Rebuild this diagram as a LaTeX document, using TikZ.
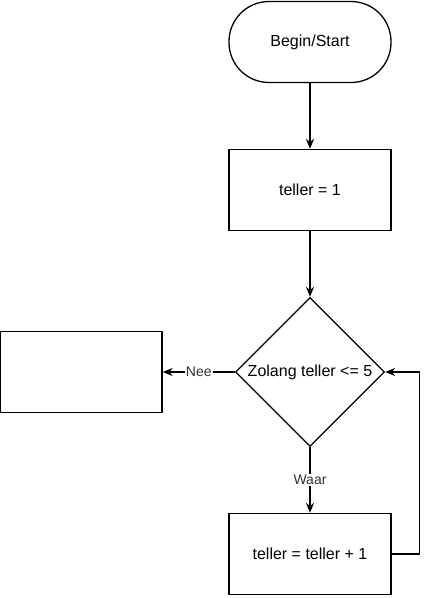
\documentclass[tikz,border=0pt]{standalone}
\usepackage{fontspec}
\setmainfont{Liberation Sans}
\usepackage{tikz}
\usetikzlibrary{shapes.geometric,arrows.meta}

\tikzset{
	blok/.style={shape=rectangle,draw=black,line width=1.3pt,minimum width=162pt,minimum height=81pt,font=\fontsize{16}{19}\selectfont},
	eindblok/.style={blok,rounded corners=40pt},
	keuze/.style={shape=diamond,draw=black,line width=1.3pt,inner sep=0pt,minimum width=149pt,minimum height=149pt,font=\fontsize{16}{19}\selectfont},
	pijl/.style={-{Stealth[length=10pt,width=8pt]},line width=1.3pt},
	label/.style={fill=white,inner sep=1pt,font=\fontsize{14}{16}\selectfont,text=black!80}
}

\begin{document}
\begin{tikzpicture}[x=1pt,y=-1pt]
	\useasboundingbox (0,0) rectangle (432,598);

	\node[eindblok] (start) at (310, 42)  {Begin/Start};
	\node[blok]     (init)  at (310, 190) {teller = 1};
	\node[keuze]    (cond)  at (310, 372) {Zolang teller <= 5};
	\node[blok]     (einde) at (81, 372)  {};
	\node[blok]     (ophoog) at (310, 554) {teller = teller + 1};

	\path[pijl] (start) edge (init);
	\path[pijl] (init) edge (cond);
	\path[pijl] (cond) edge node[label]{Nee} (einde);
	\path[pijl] (cond) edge node[label]{Waar} (ophoog);
	\draw[pijl] (ophoog.east) -- ++(28,0) |- (cond.east);
\end{tikzpicture}
\end{document}
